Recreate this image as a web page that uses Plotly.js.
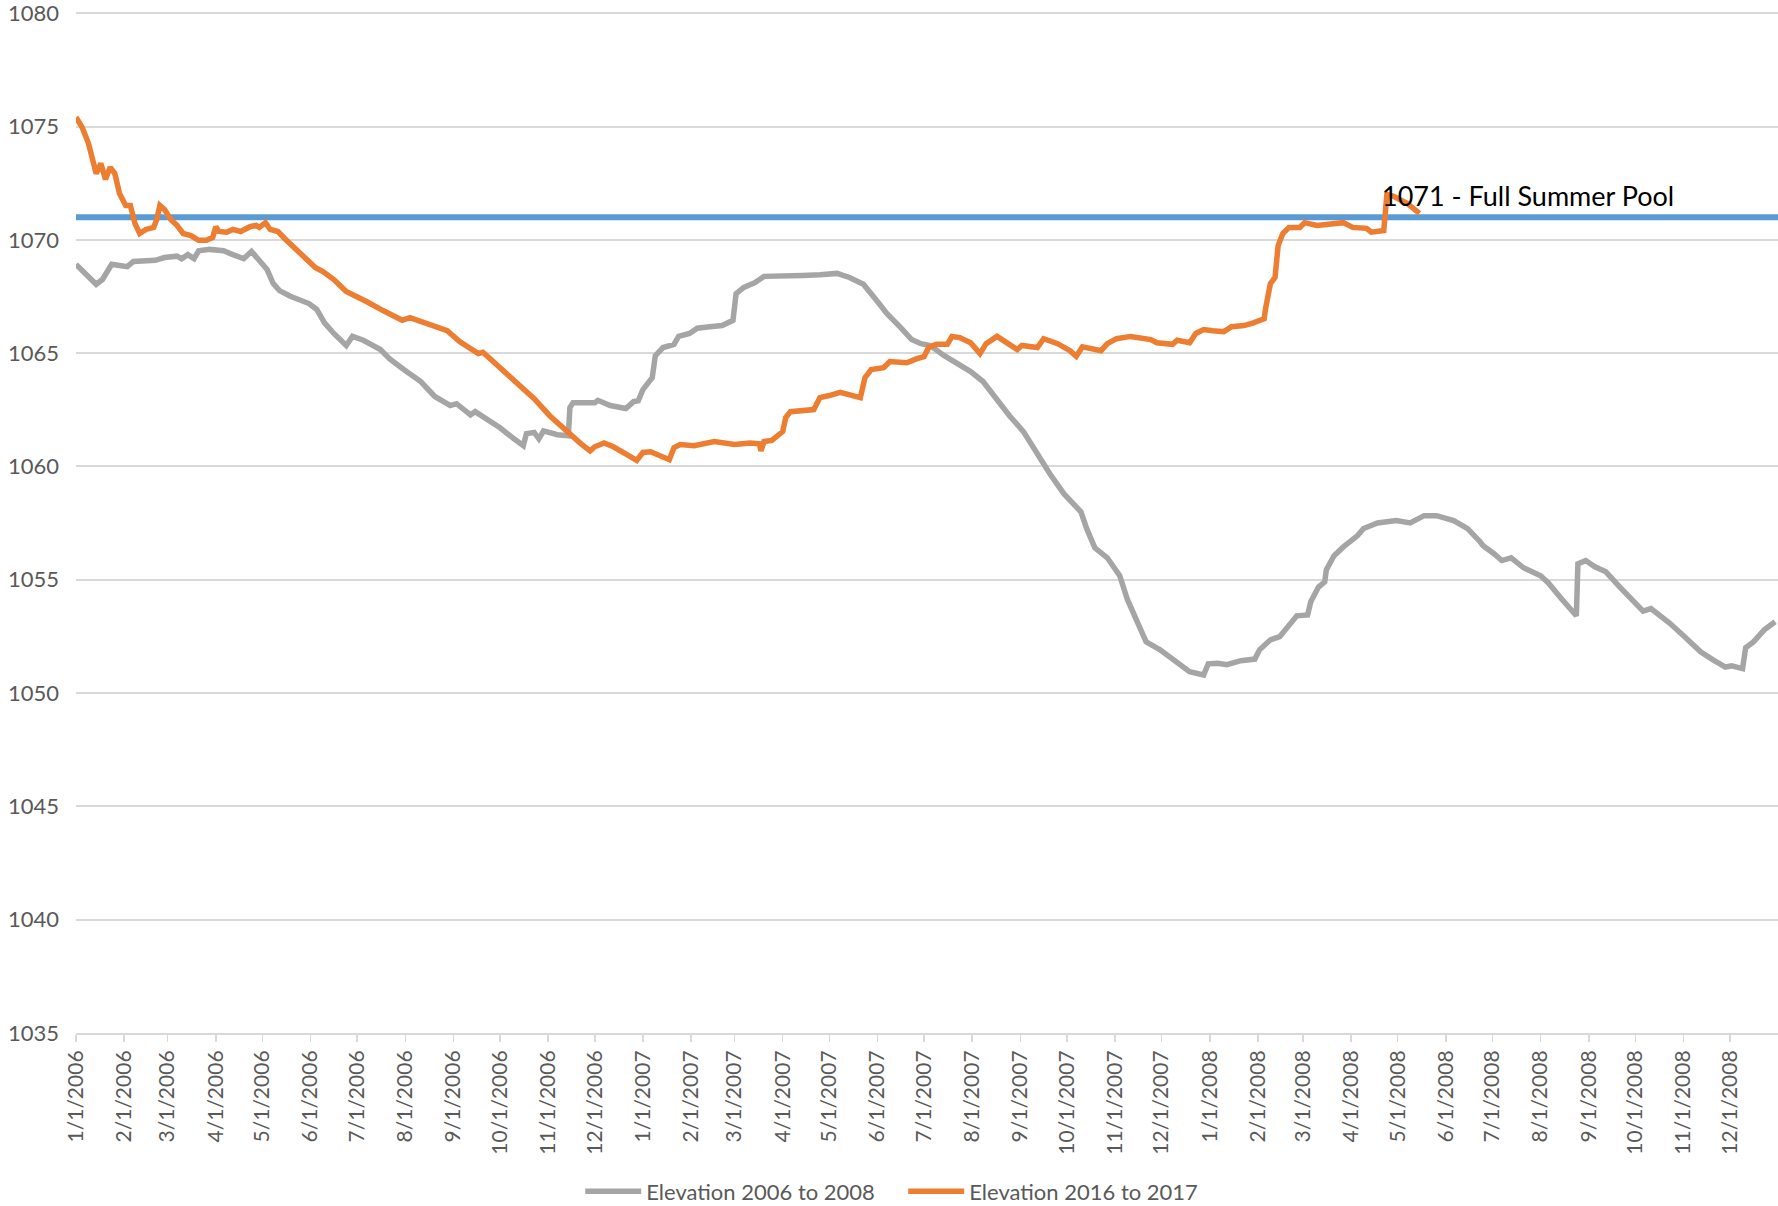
<!DOCTYPE html>
<html>
<head>
<meta charset="utf-8">
<script src="https://cdn.plot.ly/plotly-3.0.1.min.js"></script>
<style>
  html, body { margin: 0; padding: 0; background: #ffffff; }
  #chart { width: 1778px; height: 1206px; }
</style>
</head>
<body>
<div id="chart"></div>
<script>
// ---- Data ----
const grayName = "Elevation 2006 to 2008";
const orangeName = "Elevation 2016 to 2017";
const fullPoolLevel = 1071;
const fullPoolLabel = "1071 - Full Summer Pool";

const grayDates = [
  "2006-01-01","2006-01-06","2006-01-10","2006-01-14","2006-01-18","2006-01-21","2006-01-24","2006-01-29",
  "2006-02-03","2006-02-07","2006-02-13","2006-02-21","2006-02-27","2006-03-07","2006-03-10","2006-03-14",
  "2006-03-18","2006-03-21","2006-03-28","2006-04-06","2006-04-12","2006-04-19","2006-04-24","2006-04-29",
  "2006-05-04","2006-05-08","2006-05-12","2006-05-19","2006-05-25","2006-05-31","2006-06-05","2006-06-10",
  "2006-06-16","2006-06-21","2006-06-24","2006-06-28","2006-07-03","2006-07-05","2006-07-16","2006-07-22",
  "2006-07-31","2006-08-11","2006-08-20","2006-08-30","2006-09-03","2006-09-12","2006-09-15","2006-09-25",
  "2006-10-01","2006-10-10","2006-10-16","2006-10-18","2006-10-23","2006-10-26","2006-10-29","2006-11-07",
  "2006-11-14","2006-11-15","2006-11-17","2006-12-01","2006-12-03","2006-12-11","2006-12-21","2006-12-26",
  "2006-12-29","2007-01-01","2007-01-07","2007-01-09","2007-01-14","2007-01-21","2007-01-24","2007-01-31",
  "2007-02-05","2007-02-13","2007-02-21","2007-02-28","2007-03-02","2007-03-07","2007-03-14","2007-03-20",
  "2007-03-30","2007-04-14","2007-04-25","2007-05-06","2007-05-14","2007-05-23","2007-06-01","2007-06-07",
  "2007-06-16","2007-06-23","2007-06-29","2007-07-05","2007-07-14","2007-07-24","2007-07-31","2007-08-08",
  "2007-08-15","2007-08-25","2007-09-03","2007-09-11","2007-09-20","2007-09-29","2007-10-10","2007-10-14",
  "2007-10-19","2007-10-27","2007-11-04","2007-11-09","2007-11-15","2007-11-21","2007-11-30","2007-12-11",
  "2007-12-19","2007-12-28","2007-12-31","2008-01-06","2008-01-12","2008-01-21","2008-01-30","2008-02-02",
  "2008-02-09","2008-02-15","2008-02-20","2008-02-26","2008-03-04","2008-03-06","2008-03-11","2008-03-15",
  "2008-03-16","2008-03-21","2008-03-27","2008-04-05","2008-04-09","2008-04-18","2008-04-30","2008-05-09",
  "2008-05-18","2008-05-26","2008-06-06","2008-06-15","2008-06-23","2008-06-25","2008-07-02","2008-07-07",
  "2008-07-13","2008-07-21","2008-08-01","2008-08-06","2008-08-14","2008-08-20","2008-08-24","2008-08-25",
  "2008-08-30","2008-09-05","2008-09-12","2008-09-21","2008-09-30","2008-10-06","2008-10-11","2008-10-23",
  "2008-11-01","2008-11-12","2008-11-20","2008-11-28","2008-12-02","2008-12-09","2008-12-11","2008-12-16",
  "2008-12-23","2008-12-30"
];
const grayElev = [
  1068.92,1068.60,1068.34,1068.04,1068.25,1068.60,1068.92,1068.87,
  1068.82,1069.05,1069.05,1069.10,1069.22,1069.28,1069.17,1069.35,
  1069.17,1069.52,1069.58,1069.52,1069.35,1069.17,1069.49,1069.13,
  1068.69,1068.07,1067.76,1067.51,1067.37,1067.19,1066.93,1066.34,
  1065.87,1065.51,1065.34,1065.74,1065.60,1065.57,1065.16,1064.75,
  1064.28,1063.75,1063.09,1062.69,1062.77,1062.28,1062.42,1061.98,
  1061.71,1061.22,1060.92,1061.45,1061.50,1061.22,1061.57,1061.40,
  1061.36,1062.60,1062.81,1062.81,1062.92,1062.69,1062.56,1062.86,
  1062.90,1063.39,1063.92,1064.89,1065.25,1065.39,1065.74,1065.87,
  1066.10,1066.17,1066.22,1066.45,1067.63,1067.90,1068.11,1068.39,
  1068.43,1068.43,1068.46,1068.52,1068.34,1068.04,1067.28,1066.75,
  1066.13,1065.60,1065.42,1065.34,1064.89,1064.45,1064.19,1063.75,
  1063.09,1062.24,1061.54,1060.65,1059.68,1058.80,1058.00,1057.21,
  1056.41,1055.97,1055.18,1054.12,1053.15,1052.26,1051.91,1051.38,
  1050.94,1050.80,1051.29,1051.32,1051.25,1051.43,1051.50,1051.91,
  1052.35,1052.49,1052.88,1053.41,1053.45,1054.03,1054.68,1054.91,
  1055.44,1056.06,1056.45,1056.94,1057.26,1057.51,1057.61,1057.51,
  1057.83,1057.83,1057.61,1057.26,1056.68,1056.50,1056.15,1055.85,
  1055.97,1055.53,1055.18,1054.86,1054.20,1053.67,1053.41,1055.70,
  1055.85,1055.57,1055.35,1054.68,1054.08,1053.62,1053.73,1053.09,
  1052.53,1051.82,1051.47,1051.15,1051.20,1051.08,1052.00,1052.26,
  1052.79,1053.15
];

const orangeDates = [
  "2006-01-01","2006-01-05","2006-01-09","2006-01-12","2006-01-14","2006-01-17","2006-01-20","2006-01-23",
  "2006-01-26","2006-01-29","2006-02-02","2006-02-05","2006-02-08","2006-02-11","2006-02-15","2006-02-20",
  "2006-02-22","2006-02-24","2006-02-27","2006-03-03","2006-03-07","2006-03-11","2006-03-16","2006-03-21",
  "2006-03-26","2006-03-30","2006-04-01","2006-04-03","2006-04-08","2006-04-12","2006-04-17","2006-04-23",
  "2006-04-27","2006-04-29","2006-05-03","2006-05-06","2006-05-11","2006-05-16","2006-05-20","2006-05-24",
  "2006-05-29","2006-06-04","2006-06-09","2006-06-16","2006-06-24","2006-07-03","2006-07-07","2006-07-18",
  "2006-07-30","2006-08-04","2006-08-15","2006-08-28","2006-09-05","2006-09-17","2006-09-20","2006-10-01",
  "2006-10-12","2006-10-23","2006-11-02","2006-11-13","2006-11-22","2006-11-28","2006-12-01","2006-12-07",
  "2006-12-13","2006-12-22","2006-12-28","2007-01-01","2007-01-06","2007-01-18","2007-01-21","2007-01-25",
  "2007-02-03","2007-02-16","2007-03-01","2007-03-11","2007-03-17","2007-03-18","2007-03-20","2007-03-25",
  "2007-04-01","2007-04-03","2007-04-06","2007-04-21","2007-04-25","2007-05-01","2007-05-08","2007-05-21",
  "2007-05-24","2007-05-28","2007-06-05","2007-06-09","2007-06-20","2007-06-26","2007-07-01","2007-07-04",
  "2007-07-09","2007-07-16","2007-07-19","2007-07-24","2007-07-31","2007-08-06","2007-08-10","2007-08-17",
  "2007-08-23","2007-08-30","2007-09-02","2007-09-12","2007-09-16","2007-09-25","2007-10-03","2007-10-07",
  "2007-10-11","2007-10-20","2007-10-23","2007-10-27","2007-11-02","2007-11-11","2007-11-24","2007-11-28",
  "2007-12-08","2007-12-11","2007-12-19","2007-12-23","2007-12-28","2008-01-03","2008-01-10","2008-01-15",
  "2008-01-23","2008-01-29","2008-02-05","2008-02-06","2008-02-09","2008-02-12","2008-02-14","2008-02-17",
  "2008-02-21","2008-02-28","2008-03-02","2008-03-10","2008-03-18","2008-03-27","2008-04-02","2008-04-11",
  "2008-04-14","2008-04-22","2008-04-24","2008-04-28","2008-05-07","2008-05-15"
];
const orangeElev = [
  1075.41,1074.96,1074.26,1073.46,1072.93,1073.37,1072.67,1073.20,
  1072.93,1072.05,1071.52,1071.52,1070.72,1070.28,1070.46,1070.55,
  1070.90,1071.52,1071.34,1070.90,1070.64,1070.28,1070.19,1069.98,
  1069.98,1070.10,1070.58,1070.37,1070.34,1070.46,1070.37,1070.58,
  1070.64,1070.55,1070.76,1070.46,1070.37,1070.02,1069.75,1069.49,
  1069.13,1068.78,1068.60,1068.25,1067.72,1067.37,1067.28,1066.87,
  1066.45,1066.57,1066.31,1065.99,1065.51,1064.98,1065.04,1064.36,
  1063.66,1062.99,1062.24,1061.54,1061.01,1060.69,1060.87,1061.04,
  1060.87,1060.51,1060.27,1060.62,1060.65,1060.30,1060.83,1060.97,
  1060.92,1061.10,1060.97,1061.04,1061.00,1060.69,1061.10,1061.15,
  1061.54,1062.16,1062.42,1062.51,1063.04,1063.13,1063.27,1063.04,
  1063.92,1064.28,1064.36,1064.63,1064.58,1064.75,1064.85,1065.25,
  1065.39,1065.39,1065.74,1065.69,1065.46,1064.98,1065.42,1065.74,
  1065.46,1065.16,1065.34,1065.25,1065.64,1065.42,1065.11,1064.86,
  1065.28,1065.16,1065.11,1065.42,1065.64,1065.74,1065.60,1065.46,
  1065.39,1065.57,1065.46,1065.87,1066.04,1065.99,1065.95,1066.17,
  1066.22,1066.34,1066.52,1067.01,1068.07,1068.34,1069.75,1070.28,
  1070.55,1070.55,1070.76,1070.64,1070.72,1070.76,1070.55,1070.51,
  1070.34,1070.41,1072.00,1071.93,1071.61,1071.17
];

const xStart = "2006-01-01";
const xEnd = "2008-12-31 20:00";
const yMin = 1035;
const yMax = 1080;

const tickLabels = [
  "1/1/2006","2/1/2006","3/1/2006","4/1/2006","5/1/2006","6/1/2006","7/1/2006","8/1/2006","9/1/2006","10/1/2006","11/1/2006","12/1/2006",
  "1/1/2007","2/1/2007","3/1/2007","4/1/2007","5/1/2007","6/1/2007","7/1/2007","8/1/2007","9/1/2007","10/1/2007","11/1/2007","12/1/2007",
  "1/1/2008","2/1/2008","3/1/2008","4/1/2008","5/1/2008","6/1/2008","7/1/2008","8/1/2008","9/1/2008","10/1/2008","11/1/2008","12/1/2008"
];
const tickVals = tickLabels.map(function (s) {
  const p = s.split("/");
  return p[2] + "-" + (p[0].length < 2 ? "0" + p[0] : p[0]) + "-01";
});

// ---- Styling ----
const FONT = "Lato, 'Open Sans', 'Liberation Sans', sans-serif";
const LABEL = "#595959";
const GRID = "#D9D9D9";

const traces = [
  {
    type: "scatter", mode: "lines",
    x: [xStart, xEnd], y: [fullPoolLevel, fullPoolLevel],
    line: { color: "#5B9BD5", width: 6 },
    showlegend: false, hoverinfo: "skip"
  },
  {
    type: "scatter", mode: "lines", name: grayName,
    x: grayDates, y: grayElev,
    line: { color: "#A5A5A5", width: 5.5 }
  },
  {
    type: "scatter", mode: "lines", name: orangeName,
    x: orangeDates, y: orangeElev,
    line: { color: "#ED7D31", width: 5.5 }
  }
];

const layout = {
  width: 1778, height: 1206,
  paper_bgcolor: "#ffffff", plot_bgcolor: "#ffffff",
  margin: { l: 76, r: 0, t: 11, b: 173 },
  font: { family: FONT, size: 21, color: LABEL },
  showlegend: true,
  legend: {
    orientation: "h",
    xref: "container", yref: "container",
    x: 0.508, xanchor: "center",
    y: 0.012, yanchor: "middle",
    itemwidth: 56,
    entrywidth: 252,
    font: { family: FONT, size: 22, color: LABEL },
    bgcolor: "rgba(0,0,0,0)"
  },
  xaxis: {
    type: "date",
    range: [xStart, xEnd],
    tickmode: "array",
    tickvals: tickVals,
    ticktext: tickLabels,
    tickangle: -90,
    ticks: "outside", ticklen: 7, tickwidth: 1.5, tickcolor: GRID,
    showgrid: false, zeroline: false,
    showline: true, linecolor: GRID, linewidth: 2,
    tickfont: { family: FONT, size: 21, color: LABEL }
  },
  yaxis: {
    range: [yMin, yMax + 0.1],
    dtick: 5, tick0: yMin,
    showgrid: true, gridcolor: GRID, gridwidth: 2,
    zeroline: false, showline: false,
    ticks: "",
    ticklabelstandoff: 16,
    ticklabeloverflow: "allow",
    tickfont: { family: FONT, size: 22, color: LABEL }
  },
  annotations: [
    {
      xref: "paper", yref: "y",
      x: 0.766, y: fullPoolLevel,
      xanchor: "left", yanchor: "middle",
      yshift: 22,
      text: fullPoolLabel,
      showarrow: false,
      font: { family: FONT, size: 27, color: "#000000" }
    }
  ],
  hovermode: false
};

Plotly.newPlot("chart", traces, layout, { displayModeBar: false, staticPlot: true });
</script>
</body>
</html>
